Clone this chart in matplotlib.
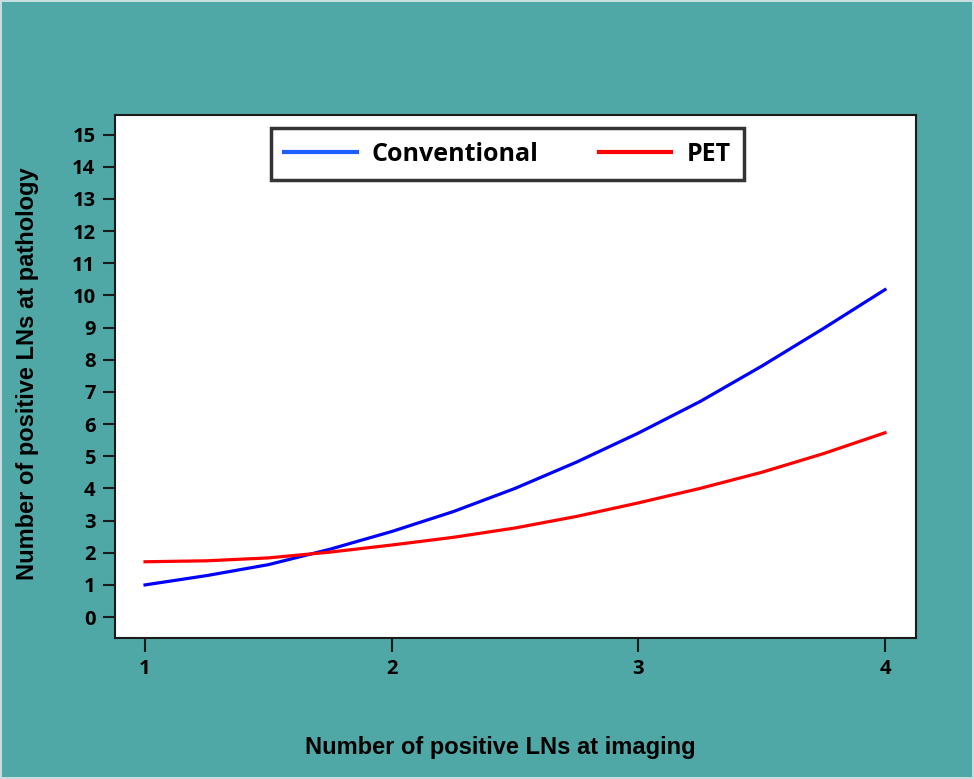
import matplotlib
matplotlib.use("Agg")
import matplotlib.pyplot as plt

# Data
x_vals = [1.0, 1.25, 1.5, 1.75, 2.0, 2.25, 2.5, 2.75, 3.0, 3.25, 3.5, 3.75, 4.0]
conventional = [1.00, 1.29, 1.63, 2.11, 2.66, 3.28, 4.00, 4.82, 5.72, 6.70, 7.80, 8.97, 10.18]
pet = [1.72, 1.75, 1.84, 2.02, 2.24, 2.48, 2.77, 3.13, 3.55, 4.00, 4.50, 5.08, 5.73]
x_ticks = [1, 2, 3, 4]
y_ticks = list(range(0, 16))
series_names = ["Conventional", "PET"]
x_label = "Number of positive LNs at imaging"
y_label = "Number of positive LNs at pathology"

bg = "#50a8a6"
fig = plt.figure(figsize=(9.74, 7.79), dpi=100, facecolor=bg)
fig.patch.set_edgecolor("#c8dede")
fig.patch.set_linewidth(1.5)
ax = fig.add_axes([0.118, 0.181, 0.8225, 0.671])
ax.set_facecolor("white")

ax.plot(x_vals, conventional, color="#0000ff", lw=2.3, label=series_names[0])
ax.plot(x_vals, pet, color="#ff0000", lw=2.3, label=series_names[1])

ax.set_xlim(0.878, 4.126)
ax.set_ylim(-0.65, 15.6)
ax.set_xticks(x_ticks)
ax.set_yticks(y_ticks)

tick_font = dict(family="Open Sans", weight="bold", size=14.5)
ax.set_xticklabels([str(t) for t in x_ticks], fontdict=tick_font)
ax.set_yticklabels([str(t) for t in y_ticks], fontdict=tick_font)
ax.tick_params(axis="y", direction="out", length=9, width=1.5, pad=5, colors="#1a1a1a")
ax.tick_params(axis="x", direction="out", length=10, width=1.5, pad=5, colors="#1a1a1a")
for t in ax.get_xticklabels() + ax.get_yticklabels():
    t.set_color("black")
for s in ax.spines.values():
    s.set_linewidth(1.5)
    s.set_color("#1a1a1a")

lab_font = dict(family="Liberation Sans", weight="bold", size=17)
fig.text(0.514, 0.040, x_label, ha="center", va="center", **lab_font)
fig.text(0.028, 0.520, y_label, ha="center", va="center", rotation=90, **lab_font)

leg = ax.legend(loc="upper center", bbox_to_anchor=(0.49, 0.976), ncol=2,
                prop=dict(family="Open Sans", weight="bold", size=18),
                frameon=True, fancybox=False, edgecolor="black",
                handlelength=2.9, columnspacing=2.4, handletextpad=0.6,
                borderpad=0.55, borderaxespad=0)
leg.get_frame().set_linewidth(2.5)
leg.get_lines()[0].set_color("#1f5fff")
for l in leg.get_lines():
    l.set_linewidth(3)

fig.savefig("out.png", dpi=100, facecolor=bg, edgecolor=fig.patch.get_edgecolor())
